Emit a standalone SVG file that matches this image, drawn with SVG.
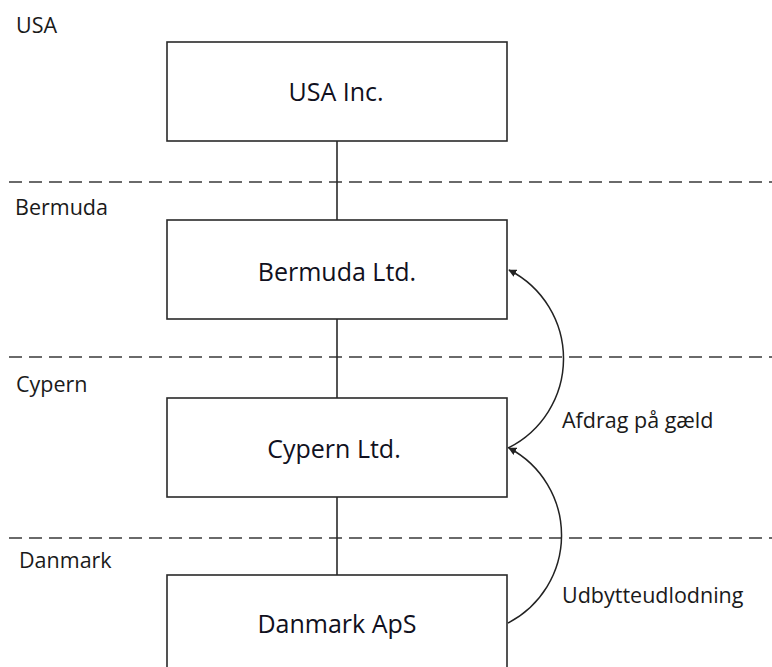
<svg xmlns="http://www.w3.org/2000/svg" width="772" height="667" viewBox="0 0 772 667">
<defs>
<style>
.box{fill:#fff;stroke:#2a2a2a;stroke-width:1.6}
.lbl{font-family:"Open Sans","Liberation Sans",sans-serif;font-size:25px;fill:#101020;text-anchor:middle}
.side{font-family:"Open Sans","Liberation Sans",sans-serif;font-size:21.5px;fill:#1a1a1a}
.sep{stroke:#6a6a6a;stroke-width:2.2;stroke-dasharray:13 7;fill:none}
.link{stroke:#2a2a2a;stroke-width:1.6;fill:none}
.flow{stroke:#222;stroke-width:1.5;fill:none;marker-end:url(#ah)}
</style>
<marker id="ah" viewBox="0 0 10 10" refX="9" refY="5" markerWidth="8" markerHeight="8" markerUnits="userSpaceOnUse" orient="auto">
<path d="M0,0 L10,5 L0,10 z" fill="#222"/>
</marker>
</defs>
<rect width="772" height="667" fill="#fff"/>
<g id="separators">
<line class="sep" x1="9" y1="182" x2="772" y2="182"/>
<line class="sep" x1="9" y1="357" x2="772" y2="357"/>
<line class="sep" x1="9" y1="538" x2="772" y2="538"/>
</g>
<g id="zone-labels">
<text class="side" x="16" y="33">USA</text>
<text class="side" x="15" y="215">Bermuda</text>
<text class="side" x="16" y="392">Cypern</text>
<text class="side" x="19" y="568">Danmark</text>
</g>
<g id="connectors">
<line class="link" x1="337" y1="141" x2="337" y2="220"/>
<line class="link" x1="337" y1="319" x2="337" y2="398"/>
<line class="link" x1="337" y1="497" x2="337" y2="575"/>
<path class="flow" d="M508 448 A99.5 99.5 0 0 0 509 270"/>
<path class="flow" d="M508 623 A98.7 98.7 0 0 0 509 448"/>
</g>
<g id="usa-inc">
<rect class="box" x="167" y="42" width="340" height="99"/>
<text class="lbl" x="336" y="101">USA Inc.</text>
</g>
<g id="bermuda-ltd">
<rect class="box" x="167" y="220" width="340" height="99"/>
<text class="lbl" x="337" y="281">Bermuda Ltd.</text>
</g>
<g id="cypern-ltd">
<rect class="box" x="167" y="398" width="340" height="99"/>
<text class="lbl" x="334" y="458">Cypern Ltd.</text>
</g>
<g id="danmark-aps">
<rect class="box" x="167" y="575" width="340" height="99"/>
<text class="lbl" x="337" y="633">Danmark ApS</text>
</g>
<g id="flow-labels">
<text class="side" x="562" y="428">Afdrag på gæld</text>
<text class="side" x="562" y="603">Udbytteudlodning</text>
</g>
</svg>
